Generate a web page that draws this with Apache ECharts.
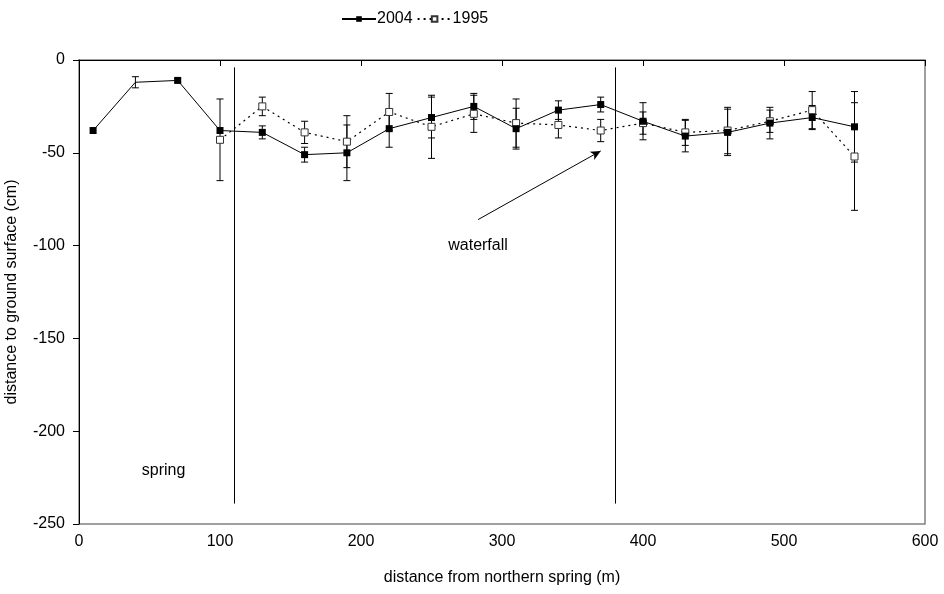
<!DOCTYPE html>
<html><head><meta charset="utf-8">
<script src="https://cdn.jsdelivr.net/npm/echarts@6/dist/echarts.min.js"></script>
<style>html,body{margin:0;padding:0;background:#fff}#c{width:944px;height:594px}</style>
</head><body><div id="c"></div>
<script>
const dist2004 = [10,40,70,100,130,160,190,220,250,280,310,340,370,400,430,460,490,520,550];
const val2004  = [-38,-12,-11,-38,-39,-51,-50,-37,-31,-25,-37,-27,-24,-33,-41,-39,-34,-31,-36];
const err2004  = [0,3,1,0,3.5,4,15,10,11,7,11,5,4,10,8.5,12.5,8.5,6.5,19];
const dist1995 = [100,130,160,190,220,250,280,310,340,370,400,430,460,490,520,550];
const val1995  = [-43,-25,-39,-44,-28,-36,-29,-34,-35,-38,-34,-39,-38,-33,-27,-52];
const err1995  = [22,5,6,14,10,17,10,13,7,6,6,7,12.5,6,10,29];
const dividers = [110,380];
const dividerRange = [-4,-239];
const arrowFrom = [283,-86];
const arrowTo = [370,-49];
const labelSpring = [60,-221];
const labelWaterfall = [283,-100];

const font = 'Liberation Sans, Arial, sans-serif';
const fs = 16;

function errData(d, v, e){
  const out=[];
  for(let i=0;i<d.length;i++){ if(e[i]>0) out.push([d[i], v[i]-e[i], v[i]+e[i]]); }
  return out;
}
function errRender(params, api){
  const x=api.value(0), lo=api.value(1), hi=api.value(2);
  const p1=api.coord([x,hi]), p2=api.coord([x,lo]);
  const w=3.5;
  const st={stroke:'#000', lineWidth:1};
  return {type:'group', children:[
    {type:'line', shape:{x1:p1[0],y1:p1[1],x2:p2[0],y2:p2[1]}, style:st},
    {type:'line', shape:{x1:p1[0]-w,y1:p1[1],x2:p1[0]+w,y2:p1[1]}, style:st},
    {type:'line', shape:{x1:p2[0]-w,y1:p2[1],x2:p2[0]+w,y2:p2[1]}, style:st}
  ]};
}

const s2004 = dist2004.map((d,i)=> i===1 ? {value:[d,val2004[i]], symbol:'none'} : [d,val2004[i]]);
const s1995 = dist1995.map((d,i)=>[d,val1995[i]]);

const chart = echarts.init(document.getElementById('c'));
chart.setOption({
  animation:false,
  backgroundColor:'#fff',
  textStyle:{fontFamily:font},
  legend:{
    top:6, left:336, itemGap:4, itemWidth:34, itemHeight:7,
    textStyle:{fontFamily:font, fontSize:fs, color:'#000', padding:[0,0,0,-4]},
    data:['2004','1995']
  },
  grid:{left:79, right:19, top:60, bottom:70, show:true, borderColor:'#808080', borderWidth:1.5, containLabel:false, outerBoundsMode:'none'},
  xAxis:{
    type:'value', min:0, max:600, interval:100,
    name:'distance from northern spring (m)', nameLocation:'middle', nameGap:46,
    nameTextStyle:{fontFamily:font, fontSize:fs, color:'#000'},
    axisLine:{lineStyle:{color:'#000', width:1}},
    axisTick:{show:true, inside:false, length:6, lineStyle:{color:'#000'}},
    axisLabel:{fontFamily:font, fontSize:fs, color:'#000', margin:10},
    splitLine:{show:false}
  },
  yAxis:{
    type:'value', min:-250, max:0, interval:50,
    name:'distance to ground surface (cm)', nameLocation:'middle', nameGap:59, nameRotate:90,
    nameTextStyle:{fontFamily:font, fontSize:fs, color:'#000'},
    axisLine:{show:true, onZero:false, lineStyle:{color:'#000', width:1}},
    axisTick:{show:true, inside:false, length:6, lineStyle:{color:'#000'}},
    axisLabel:{fontFamily:font, fontSize:fs, color:'#000', margin:14},
    splitLine:{show:false}
  },
  series:[
    {type:'custom', name:'err2004', renderItem:errRender, data:errData(dist2004,val2004,err2004), z:3, silent:true},
    {type:'custom', name:'err1995', renderItem:errRender, data:errData(dist1995,val1995,err1995), z:3, silent:true},
    {
      name:'2004', type:'line', data:s2004, symbol:'rect', symbolSize:7,
      itemStyle:{color:'#000'}, lineStyle:{color:'#000', width:1}, z:5,
      markLine:{
        silent:true, symbol:['none','none'], label:{show:false},
        lineStyle:{color:'#000', width:1, type:'solid'},
        data:[
          [{coord:[dividers[0],dividerRange[0]]},{coord:[dividers[0],dividerRange[1]]}],
          [{coord:[dividers[1],dividerRange[0]]},{coord:[dividers[1],dividerRange[1]]}],
          [{coord:arrowFrom, symbol:'none'},{coord:arrowTo, symbol:'arrow', symbolSize:[7,10]}]
        ]
      },
      markPoint:{
        silent:true, symbol:'rect', symbolSize:1, itemStyle:{color:'rgba(0,0,0,0)'},
        label:{show:true, color:'#000', fontFamily:font, fontSize:fs, position:'inside'},
        data:[
          {coord:labelSpring, value:'spring', label:{formatter:'spring'}},
          {coord:labelWaterfall, value:'waterfall', label:{formatter:'waterfall'}}
        ]
      }
    },
    {
      name:'1995', type:'line', data:s1995, symbol:'rect', symbolSize:7,
      itemStyle:{color:'#fff', borderColor:'#333', borderWidth:1}, lineStyle:{color:'#000', width:1.2, type:[2,4]}, z:4
    }
  ]
});
</script></body></html>
